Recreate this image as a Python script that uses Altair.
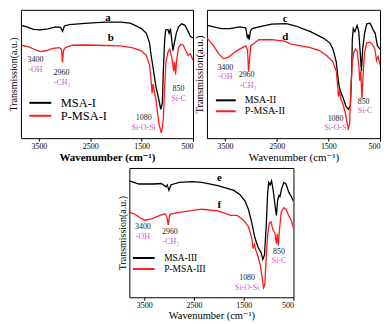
import altair as alt
import pandas as pd

FONT = "'Liberation Serif', 'Times New Roman', 'DejaVu Serif', serif"
BLACK = "#000000"
RED = "#ff1a1a"
VIOLET = "#cc55dd"

# ---------------- Panel 1 (MSA-I / P-MSA-I) ----------------
p1_names = ["MSA-I", "P-MSA-I"]
p1_black_wn = [3844, 3737, 3605, 3474, 3323, 3172, 3078, 3041, 3003, 2909, 2664, 2382, 2194, 1912, 1723, 1629,
               1503, 1409, 1347, 1315, 1266, 1221, 1178, 1127, 1097, 1078, 1051, 1033, 989, 965, 939, 908, 890,
               863, 826, 782, 720, 656, 594, 551, 500]
p1_black_t = [87.9, 86.7, 84.8, 84.4, 85.2, 86.7, 86.3, 83.3, 87.4, 88.5, 89.3, 90, 90.4, 90.4, 89.6, 87.9,
              85.4, 81.7, 74.3, 64.4, 52.1, 40, 32.6, 22.4, 27.4, 52.1, 77, 84.2, 84.7, 81.7, 85.4, 74.3, 68.1,
              74.3, 81.7, 86.7, 89.1, 87.9, 83, 79.3, 78]
p1_red_wn = [3844, 3699, 3568, 3474, 3361, 3229, 3097, 3060, 3041, 3022, 2984, 2853, 2570, 2194, 1912, 1691,
             1503, 1409, 1347, 1315, 1296, 1277, 1253, 1221, 1191, 1159, 1116, 1097, 1078, 1051, 1027, 989,
             952, 908, 876, 858, 839, 814, 782, 739, 688, 656, 594, 551, 500]
p1_red_t = [72.4, 71.1, 68.9, 67.4, 68.1, 70, 70.6, 68.9, 59, 68.1, 70.6, 72.4, 72.6, 72.2, 71.9, 70.6,
            68.1, 64.4, 57, 44.7, 34.8, 42.2, 36.3, 29.9, 20, 10.4, 4, 8.9, 15, 40, 59.5, 66.9,
            69.4, 62, 52.1, 59.5, 49.6, 62, 70.6, 73.1, 72.4, 69.4, 64.4, 65.7, 60.7]
p1_num_wn = [3568, 3060, 1460, 782]
p1_num_t = [61, 51, 16, 38]
p1_chem_wn = [3568, 3050, 1460, 782]
p1_chem_t = [53, 43, 8, 30.5]
p1_letters = ["a", "b"]
p1_letter_wn = [2156, 2100]
p1_letter_t = [94, 78]

# ---------------- Panel 2 (MSA-II / P-MSA-II) ----------------
p2_names = ["MSA-II", "P-MSA-II"]
p2_black_wn = [3844, 3719, 3569, 3401, 3219, 3101, 3064, 3049, 3032, 3008, 2970, 2845, 2596, 2315, 2128, 1847,
               1598, 1473, 1411, 1347, 1299, 1272, 1224, 1160, 1111, 1074, 1048, 1036, 1018, 986, 943, 911,
               879, 860, 836, 799, 756, 692, 630, 593, 550, 500]
p2_black_t = [87.9, 86.7, 85.4, 85.4, 86.7, 85.9, 77.8, 80.7, 76.8, 83.7, 85.4, 86.7, 88.9, 89.3, 87.4, 83,
              78, 74.3, 69.4, 59.5, 42.2, 37.3, 32.4, 25, 22.4, 25.2, 52.1, 76.8, 85.4, 83, 87.9, 83,
              64.4, 52.1, 69.4, 81.7, 89.1, 89.6, 84.2, 81.7, 71.9, 69.4]
p2_red_wn = [3844, 3719, 3625, 3532, 3438, 3345, 3219, 3101, 3064, 3045, 3026, 3002, 2845, 2596, 2352, 2221,
             1847, 1660, 1628, 1534, 1411, 1347, 1317, 1304, 1285, 1254, 1224, 1173, 1130, 1111, 1089, 1061,
             1036, 1005, 973, 943, 911, 892, 874, 849, 823, 799, 756, 692, 649, 598, 568, 537, 500]
p2_red_t = [78, 71.9, 65.9, 62, 63, 65.9, 69.4, 71.9, 68.9, 52.1, 60.7, 71.9, 76.8, 76.7, 75.6, 73.3,
            70.6, 68.1, 66.9, 64.4, 59.5, 52.1, 39.8, 32.4, 37.3, 29.9, 27.4, 20, 10.1, 7.6, 11.1, 40,
            59.5, 66.9, 69.4, 68.1, 57, 44.7, 52.1, 31.1, 52.1, 66.9, 74.3, 74.8, 73.1, 69.4, 60.5, 63.7, 57]
p2_num_wn = [3494, 3082, 1360, 817]
p2_num_t = [55, 49, 15, 28.5]
p2_chem_wn = [3494, 3054, 1341, 789]
p2_chem_t = [48, 41, 8, 21]
p2_letters = ["c", "d"]
p2_letter_wn = [2334, 2334]
p2_letter_t = [93, 79]

# ---------------- Panel 3 (MSA-III / P-MSA-III) ----------------
p3_names = ["MSA-III", "P-MSA-III"]
p3_black_wn = [3800, 3606, 3315, 3159, 3062, 3037, 3004, 2960, 2797, 2538, 2344, 2020, 1698, 1568, 1471, 1407,
               1341, 1277, 1213, 1147, 1116, 1083, 1050, 1019, 999, 972, 941, 908, 869, 844, 817, 791,
               772, 739, 694, 650, 597, 545, 500]
p3_black_t = [90, 87.6, 87.6, 88, 85.4, 86.9, 82.7, 87.1, 88.8, 89.4, 88.8, 86.4, 82.7, 79.1, 74.2, 68.1,
              58.4, 46.2, 38.9, 34.1, 29.2, 32.8, 53.5, 80.3, 88.8, 86.9, 90, 82.7, 70.6, 63.3, 75.4, 78.8,
              77.9, 83.9, 88.8, 87.6, 81.5, 77.9, 74.2]
p3_red_wn = [3800, 3703, 3606, 3489, 3354, 3185, 3082, 3043, 3018, 2991, 2960, 2797, 2344, 2020, 1762, 1632,
             1504, 1407, 1341, 1310, 1286, 1257, 1213, 1166, 1127, 1102, 1077, 1050, 1019, 986, 953, 922,
             869, 844, 825, 805, 778, 747, 694, 650, 597, 545, 500]
p3_red_t = [65.7, 64.6, 62, 59.6, 60.6, 63.3, 64.5, 62, 56, 63.5, 64.5, 65.7, 68.1, 66.9, 63.3, 63.3,
            59.6, 54.7, 46.2, 37.7, 40.9, 36.5, 31.6, 24.3, 14.6, 7.3, 9.5, 29.2, 48.7, 57.2, 58.4, 53.5,
            48.9, 41.4, 48.9, 40.1, 53.5, 65.7, 69.3, 68.1, 63.3, 59.6, 53.5]
p3_num_wn = [3528, 2985, 1432, 791]
p3_num_t = [54, 50.5, 15, 35]
p3_chem_wn = [3528, 2965, 1432, 791]
p3_chem_t = [47, 43, 7.5, 28]
p3_letters = ["e", "f"]
p3_letter_wn = [1989, 1989]
p3_letter_t = [92, 71.5]

# shared annotation texts / ticks
num_labels = ["3400", "2960", "1080", "850"]
chem_labels = ["-OH", "-CH\u2083", "Si-O-Si", "Si-C"]
tick_values = [3500, 3000, 2500, 2000, 1500, 1000, 500]
y_title = "Transmission(a.u.)"
x_title = "Wavenumber (cm\u207b\u00b9)"


def panel(names, bwn, bt, rwn, rt, nwn, nt, cwn, ct, letters, lwn, lt,
          xmax, width, height, legx, legy, legfont, legsym, legoff, legrow,
          xweight, xsize, ysize, ann_size):
    lines = pd.concat([
        pd.DataFrame({"wn": bwn, "t": bt, "s": names[0]}),
        pd.DataFrame({"wn": rwn, "t": rt, "s": names[1]}),
    ])
    xs = alt.Scale(domain=[500, xmax], reverse=True, nice=False, zero=False)
    ys = alt.Scale(domain=[0, 100], nice=False, zero=False)
    xax = alt.Axis(values=tick_values, format="d", title=x_title, tickSize=3, labelFontSize=8,
                   labelFont=FONT, titleFont=FONT,
                   labelPadding=1, labelFlush=True, titleFontSize=xsize, titleFontWeight=xweight,
                   titlePadding=1, domain=False, grid=False, tickColor=BLACK, labelColor=BLACK,
                   titleColor=BLACK)
    yax = alt.Axis(title=y_title, labels=False, ticks=False, domain=False, grid=False, titleFont=FONT,
                   titleFontSize=ysize, titleFontWeight="normal", titlePadding=2, titleColor=BLACK)
    base_line = alt.Chart(lines).mark_line(strokeWidth=1.3, clip=True).encode(
        x=alt.X("wn:Q", scale=xs, axis=xax),
        y=alt.Y("t:Q", scale=ys, axis=yax),
        color=alt.Color("s:N", scale=alt.Scale(domain=names, range=[BLACK, RED]),
                        legend=alt.Legend(title=None, orient="none", legendX=legx, legendY=legy,
                                          symbolType="M-2,0H2", symbolSize=legsym, symbolStrokeWidth=2,
                                          labelFontSize=legfont, labelFont=FONT, labelOffset=legoff,
                                          labelFontWeight="normal",
                                          rowPadding=legrow, padding=0, labelColor=BLACK)),
    )
    nums = alt.Chart(pd.DataFrame({"wn": nwn, "t": nt, "txt": num_labels})).mark_text(
        font=FONT, fontSize=ann_size, color="#222222").encode(
        x=alt.X("wn:Q", scale=xs), y=alt.Y("t:Q", scale=ys), text="txt:N")
    chem = alt.Chart(pd.DataFrame({"wn": cwn, "t": ct, "txt": chem_labels})).mark_text(
        font=FONT, fontSize=ann_size, color=VIOLET).encode(
        x=alt.X("wn:Q", scale=xs), y=alt.Y("t:Q", scale=ys), text="txt:N")
    lets = alt.Chart(pd.DataFrame({"wn": lwn, "t": lt, "txt": letters})).mark_text(
        font=FONT, fontSize=11, fontWeight="bold", color=BLACK).encode(
        x=alt.X("wn:Q", scale=xs), y=alt.Y("t:Q", scale=ys), text="txt:N")
    return alt.layer(base_line, nums, chem, lets).properties(width=width, height=height)


c1 = panel(p1_names, p1_black_wn, p1_black_t, p1_red_wn, p1_red_t, p1_num_wn, p1_num_t,
           p1_chem_wn, p1_chem_t, p1_letters, p1_letter_wn, p1_letter_t,
           3850, 173, 129, 13, 87, 12.5, 121, 14, -2, "bold", 11, 10, 8)
c2 = panel(p2_names, p2_black_wn, p2_black_t, p2_red_wn, p2_red_t, p2_num_wn, p2_num_t,
           p2_chem_wn, p2_chem_t, p2_letters, p2_letter_wn, p2_letter_t,
           3850, 174, 129, 13, 85, 10, 100, 13, -5, "normal", 11, 10.5, 8)
c3 = panel(p3_names, p3_black_wn, p3_black_t, p3_red_wn, p3_red_t, p3_num_wn, p3_num_t,
           p3_chem_wn, p3_chem_t, p3_letters, p3_letter_wn, p3_letter_t,
           3800, 165, 130, 8, 84, 9.5, 118, 14, -3, "normal", 10.5, 10, 8)

spacer = alt.Chart(pd.DataFrame({"v": [0]})).mark_point(opacity=0).encode(
    x=alt.value(0), y=alt.value(0)).properties(width=96, height=130,
                                               view=alt.ViewBackground(strokeOpacity=0))

top = alt.hconcat(c1, c2, spacing=0).resolve_scale(color="independent").resolve_legend(color="independent")
bottom = alt.hconcat(spacer, c3, spacing=0).resolve_scale(color="independent")
chart = alt.vconcat(top, bottom, spacing=2).resolve_scale(
    color="independent", x="independent", y="independent").resolve_legend(color="independent").configure(
    font=FONT, padding=0
).configure_view(stroke=BLACK, strokeWidth=1)

chart.save("out.html", embed_options={"renderer": "svg", "actions": False})
